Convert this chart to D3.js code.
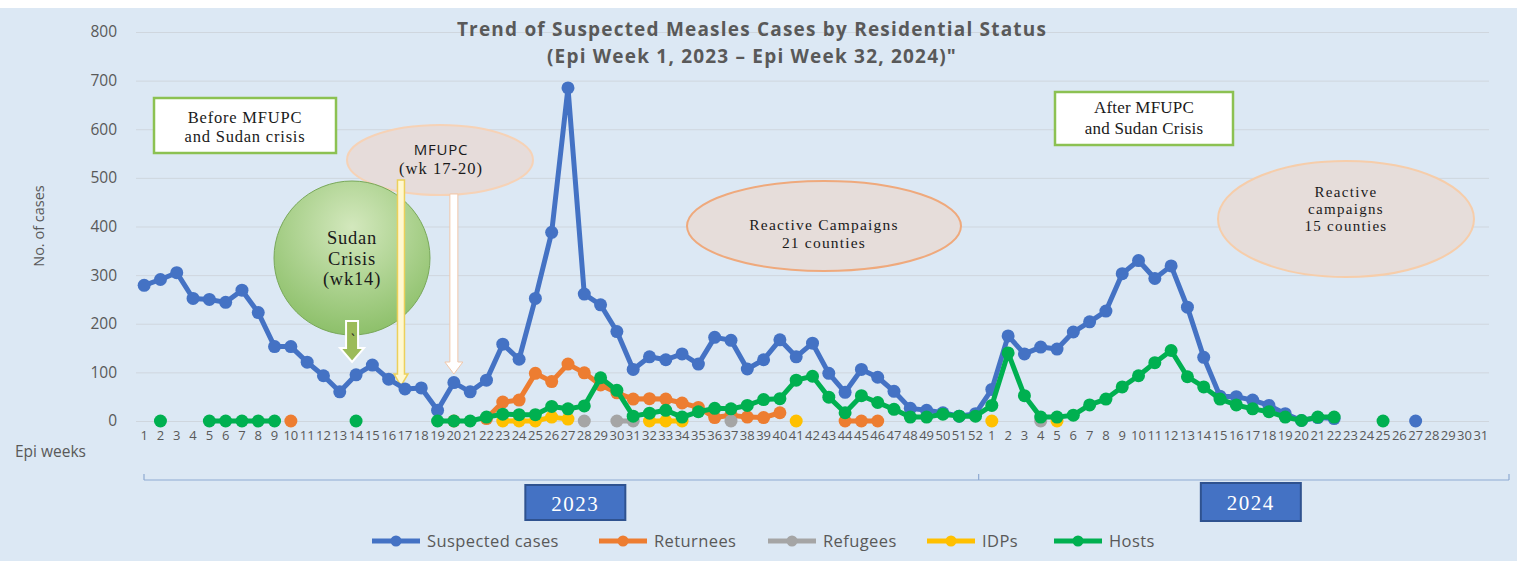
<!DOCTYPE html>
<html>
<head>
<meta charset="utf-8">
<script src="https://cdn.jsdelivr.net/npm/d3@7"></script>
<style>
  body { margin: 0; background: #ffffff; }
  text { fill: #595959; }
</style>
</head>
<body>
<script>
// DATA

// Epi week labels (2023 then 2024)
const weeks2023 = ['1','2','3','4','5','6','7','8','9','10','11','12','13','14','15','16','17','18','19','20','21','22','23','24','25','26',
                   '27','28','29','30','31','32','33','34','35','36','37','38','39','40','41','42','43','44','45','46','47','48','49','50','51','52'];
const weeks2024 = ['1','2','3','4','5','6','7','8','9','10','11','12','13','14','15','16','17','18','19','20','21','22','23','24','25','26',
                   '27','28','29','30','31'];
const yTicks = [0, 100, 200, 300, 400, 500, 600, 700, 800];
const years = ['2023', '2024'];
const seriesNames = ['Suspected cases', 'Returnees', 'Refugees', 'IDPs', 'Hosts'];
const seriesColors = ['#4472c4', '#ed7d31', '#a5a5a5', '#ffc000', '#00b050'];

// Series values (null = no point that week)
const suspected2023 = [279,291,305,252,250,244,269,223,153,153, 121,93,60,95,115,86,66,68,22,79, 60,84,158,127,252,388,685,261,239,184,
                       106,132,126,138,117,172,166,107,126,167, 132,160,98,59,106,90,61,26,22,17, 10,15];
const suspected2024 = [65,175,138,152,148,183,204,226,303,330, 293,319,234,131,51,50,43,32,15,1, 7,5,null,null,null,null,0,null,null,null, null];

const returnees2023 = [null,null,null,null,null,null,null,null,null,0, null,null,null,null,null,null,null,null,null,0,
                       null,5,39,43,98,81,117,99,74,58, 45,46,45,37,28,7,12,8,7,17, null,null,null,0,0,0,null,null,null,null, null,null];
const returnees2024 = [null,null,null,null,null,null,null,null,null,null, null,null,null,null,null,null,null,null,null,null,
                       null,null,null,null,null,null,null,null,null,null, null];

const refugees2023 = [null,null,null,null,null,null,null,null,null,null, null,null,null,null,null,null,null,null,null,null,
                      null,null,null,null,null,null,null,0,null,0, 0,null,null,null,null,null,0,null,null,null,
                      null,null,null,null,null,null,null,null,null,null, null,null];
const refugees2024 = [null,null,null,0,null,null,null,null,null,null, null,null,null,null,null,null,null,null,null,null,
                      null,null,null,null,null,null,null,null,null,null, null];

const idps2023 = [null,null,null,null,null,null,null,null,null,null, null,null,null,null,null,null,null,null,null,null,
                  null,null,0,0,0,8,4,null,null,null, null,0,0,0,null,null,null,null,null,null,
                  0,null,null,null,null,null,null,null,null,null, null,null];
const idps2024 = [0,null,null,null,0,null,null,null,null,null, null,null,null,null,null,null,null,null,null,null,
                  null,null,null,null,null,null,null,null,null,null, null];

const hosts2023 = [null,0,null,null,0,0,0,0,0,null, null,null,null,0,null,null,null,null,0,0,
                   0,8,14,13,13,30,25,31,89,63, 10,16,22,8,19,26,25,32,44,46, 84,92,49,17,52,38,24,8,8,14, 10,10];
const hosts2024 = [32,140,52,8,8,12,33,45,70,93, 120,145,91,70,45,33,25,19,8,1, 8,8,null,null,0,null,null,null,null,null, null];

// LAYOUT
const width = 1517;
const height = 561;
const plot = {left: 136, right: 1489, top: 32, bottom: 421};

const svg = d3.select('body')
  .append('svg')
  .attr('width', width)
  .attr('height', height)
  .style('font-family', "'Open Sans', sans-serif");

// chart background
svg.append('rect')
  .attr('x', 0).attr('y', 8)
  .attr('width', width).attr('height', height - 8)
  .attr('fill', '#dce8f4');

// category keys so that week numbers of both years stay distinct
const keys = weeks2023.map(w => '2023-' + w).concat(weeks2024.map(w => '2024-' + w));
const labelOf = new Map(keys.map((k, i) => [k, k.split('-')[1]]));

const series = [
  suspected2023.concat(suspected2024),
  returnees2023.concat(returnees2024),
  refugees2023.concat(refugees2024),
  idps2023.concat(idps2024),
  hosts2023.concat(hosts2024)
].map((values, s) => ({
  name: seriesNames[s],
  color: seriesColors[s],
  points: values.map((v, i) => ({key: keys[i], value: v}))
}));

// SCALES
const x = d3.scaleBand()
  .domain(keys)
  .range([plot.left, plot.right]);
const cx = k => x(k) + x.bandwidth() / 2;

const y = d3.scaleLinear()
  .domain([0, 800])
  .range([plot.bottom, plot.top]);

// GRIDLINES + Y AXIS
const yAxis = d3.axisLeft(y)
  .tickValues(yTicks)
  .tickSize(-(plot.right - plot.left))
  .tickPadding(19);

svg.append('g')
  .attr('transform', 'translate(' + plot.left + ',0)')
  .call(yAxis)
  .call(g => g.select('.domain').remove())
  .call(g => g.selectAll('line').attr('stroke', '#cfd6de').attr('stroke-width', 1))
  .call(g => g.selectAll('text').attr('font-size', 15.5).attr('fill', '#595959').style('font-family', "'Open Sans', sans-serif"));

svg.append('text')
  .attr('transform', 'translate(44,' + 226 + ') rotate(-90)')
  .attr('text-anchor', 'middle')
  .attr('font-size', 14.5)
  .text('No. of cases');

// X AXIS (week numbers)
const xAxis = d3.axisBottom(x)
  .tickSize(0)
  .tickPadding(10)
  .tickFormat(k => labelOf.get(k));

svg.append('g')
  .attr('transform', 'translate(0,' + plot.bottom + ')')
  .call(xAxis)
  .call(g => g.select('.domain').remove())
  .call(g => g.selectAll('text').attr('font-size', 13).attr('fill', '#595959').style('font-family', "'Open Sans', sans-serif"));

svg.append('text')
  .attr('x', 15).attr('y', 457)
  .attr('font-size', 15.5)
  .text('Epi weeks');

// year grouping bracket
const yearStart = [x(keys[0]) + 8, x('2024-1') - 5];
const yearEnd = [x('2024-1') - 5, plot.right + 20];
const yearShift = [14, 7];
const bracketY = 480;

const bracket = svg.append('g').attr('stroke', '#8ea9d1').attr('stroke-width', 1.2).attr('fill', 'none');
bracket.append('line').attr('x1', yearStart[0]).attr('x2', yearEnd[1]).attr('y1', bracketY).attr('y2', bracketY);
[yearStart[0], yearStart[1], yearEnd[1]].forEach(px => {
  bracket.append('line').attr('x1', px).attr('x2', px).attr('y1', bracketY - 6).attr('y2', bracketY);
});

years.forEach((yr, i) => {
  const mid = (yearStart[i] + yearEnd[i]) / 2 + yearShift[i];
  svg.append('rect')
    .attr('x', mid - 50).attr('y', 485 - i * 2)
    .attr('width', 100).attr('height', 35 + i * 3)
    .attr('fill', '#4472c4')
    .attr('stroke', '#2f528f')
    .attr('stroke-width', 2);
  svg.append('text')
    .attr('x', mid).attr('y', 511 - i)
    .attr('text-anchor', 'middle')
    .attr('font-size', 21)
    .attr('letter-spacing', 1.5)
    .style('font-family', "'Liberation Serif', serif")
    .style('fill', '#ffffff')
    .text(yr);
});

// ANNOTATIONS (behind the lines)
function multiline(g, lines, xPos, yPos, size, lineH, family, spacing) {
  lines.forEach((t, i) => {
    g.append('text')
      .attr('x', xPos).attr('y', yPos + i * lineH)
      .attr('text-anchor', 'middle')
      .attr('font-size', size)
      .attr('letter-spacing', spacing || 0)
      .style('font-family', family)
      .style('fill', '#1a1a1a')
      .text(t);
  });
}
const serif = "'Liberation Serif', 'Times New Roman', serif";
const notes = svg.append('g');

// before / after boxes
notes.append('rect').attr('x', 154).attr('y', 98).attr('width', 182).attr('height', 55)
  .attr('fill', '#ffffff').attr('stroke', '#8cc152').attr('stroke-width', 2.5);
multiline(notes, ['Before MFUPC', 'and Sudan crisis'], 245, 123, 16.5, 18.5, serif, 0.8);

notes.append('rect').attr('x', 1055).attr('y', 92).attr('width', 178).attr('height', 53)
  .attr('fill', '#ffffff').attr('stroke', '#8cc152').attr('stroke-width', 2.5);
multiline(notes, ['After MFUPC', 'and Sudan Crisis'], 1144, 113, 17, 21, serif, 0.2);

// reactive campaign ellipses
notes.append('ellipse').attr('cx', 824).attr('cy', 226).attr('rx', 137).attr('ry', 45)
  .attr('fill', '#e6ddda').attr('stroke', '#efa97c').attr('stroke-width', 2);
multiline(notes, ['Reactive Campaigns', '21 counties'], 824, 230, 15.5, 18, serif, 1.2);

notes.append('ellipse').attr('cx', 1346).attr('cy', 219).attr('rx', 128).attr('ry', 58)
  .attr('fill', '#e6ddda').attr('stroke', '#f6cdaa').attr('stroke-width', 2);
multiline(notes, ['Reactive', 'campaigns', '15 counties'], 1346, 197, 15, 17, serif, 1.3);

// MFUPC ellipse
notes.append('ellipse').attr('cx', 440).attr('cy', 160).attr('rx', 93).attr('ry', 35)
  .attr('fill', '#e6dcda').attr('stroke', '#f6d2b6').attr('stroke-width', 2);
notes.append('text').attr('x', 441).attr('y', 155).attr('text-anchor', 'middle')
  .attr('font-size', 15).attr('letter-spacing', 0.8).style('fill', '#1a1a1a').text('MFUPC');
multiline(notes, ['(wk 17-20)'], 441, 174, 16.5, 0, serif, 1);

// Sudan crisis bubble
const grad = svg.append('defs').append('radialGradient')
  .attr('id', 'sudanFill').attr('cx', '50%').attr('cy', '30%').attr('r', '70%');
grad.append('stop').attr('offset', '0%').attr('stop-color', '#d3e8bd');
grad.append('stop').attr('offset', '100%').attr('stop-color', '#8dc06a');
notes.append('ellipse').attr('cx', 352).attr('cy', 258).attr('rx', 78).attr('ry', 77)
  .attr('fill', 'url(#sudanFill)').attr('stroke', '#79a85a').attr('stroke-width', 1);
multiline(notes, ['Sudan', 'Crisis', '(wk14)'], 352, 244, 18.5, 20.5, serif, 0.8);

// block arrows pointing at the data points
function arrow(xc, y0, y1, shaftW, headW, headL) {
  const yh = y1 - headL;
  return 'M' + (xc - shaftW) + ',' + y0 + 'L' + (xc + shaftW) + ',' + y0 + 'L' + (xc + shaftW) + ',' + yh +
         'L' + (xc + headW) + ',' + yh + 'L' + xc + ',' + y1 + 'L' + (xc - headW) + ',' + yh +
         'L' + (xc - shaftW) + ',' + yh + 'Z';
}
notes.append('path').attr('d', arrow(cx('2023-14') - 4, 321, 362, 6, 12, 14))
  .attr('fill', '#9bbb59').attr('stroke', '#ffffff').attr('stroke-width', 2);
notes.append('text').attr('x', 351).attr('y', 345).attr('font-size', 14).style('fill', '#222').text('`');
notes.append('path').attr('d', arrow(cx('2023-17') - 4, 180, 386, 3.5, 7, 12))
  .attr('fill', '#fff8d0').attr('stroke', '#ecd05a').attr('stroke-width', 1.5);
notes.append('path').attr('d', arrow(cx('2023-20'), 194, 374, 4, 9, 12))
  .attr('fill', '#ffffff').attr('stroke', '#f1c7aa').attr('stroke-width', 1);

// LINES + MARKERS
const line = d3.line()
  .defined(d => d.value !== null)
  .x(d => cx(d.key))
  .y(d => y(d.value));

const seriesG = svg.append('g')
  .selectAll('g')
  .data(series)
  .join('g');

seriesG.append('path')
  .attr('d', d => line(d.points))
  .attr('fill', 'none')
  .attr('stroke', d => d.color)
  .attr('stroke-width', 5)
  .attr('stroke-linejoin', 'round');

seriesG.selectAll('circle')
  .data(d => d.points.filter(p => p.value !== null).map(p => ({...p, color: d.color})))
  .join('circle')
  .attr('cx', d => cx(d.key))
  .attr('cy', d => y(d.value))
  .attr('r', 6.5)
  .attr('fill', d => d.color);

// TITLE
const titleLines = ['Trend of Suspected Measles Cases by Residential Status', '(Epi Week 1, 2023 \u2013 Epi Week 32, 2024)"'];
svg.selectAll('.title')
  .data(titleLines)
  .join('text')
  .classed('title', true)
  .attr('x', 752)
  .attr('y', (d, i) => 36 + i * 27)
  .attr('text-anchor', 'middle')
  .attr('font-size', 19)
  .attr('font-weight', 'bold')
  .attr('letter-spacing', 1.2)
  .text(d => d);

// LEGEND
const legendX = [372, 599, 768, 927, 1054];
const legend = svg.append('g')
  .selectAll('g')
  .data(series)
  .join('g')
  .attr('transform', (d, i) => 'translate(' + legendX[i] + ',541)');

legend.append('line')
  .attr('x1', 0).attr('x2', 48)
  .attr('stroke', d => d.color)
  .attr('stroke-width', 5);
legend.append('circle')
  .attr('cx', 24).attr('r', 5.5)
  .attr('fill', d => d.color);
legend.append('text')
  .attr('x', 55).attr('y', 6)
  .attr('font-size', 16.5)
  .attr('letter-spacing', 0.4)
  .text(d => d.name);
</script>
</body>
</html>
